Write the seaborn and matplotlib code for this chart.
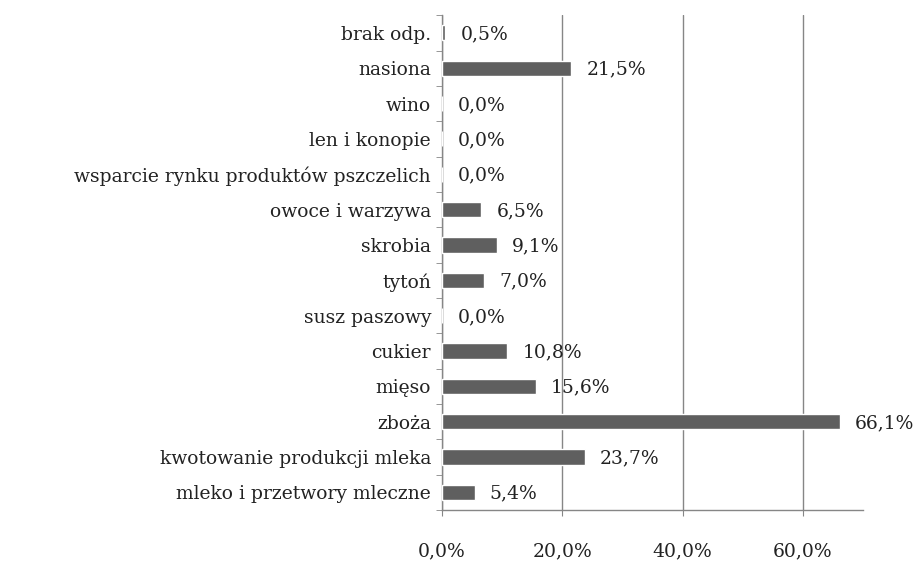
import pandas as pd
import seaborn as sns
import matplotlib.pyplot as plt
import numpy as np
from matplotlib.ticker import FuncFormatter, FixedLocator

# Data (top to bottom as in the chart)
categories = ['brak odp.', 'nasiona', 'wino', 'len i konopie',
              'wsparcie rynku produktów pszczelich', 'owoce i warzywa',
              'skrobia', 'tytoń', 'susz paszowy', 'cukier', 'mięso',
              'zboża', 'kwotowanie produkcji mleka', 'mleko i przetwory mleczne']
shares = [0.5, 21.5, 0.0, 0.0, 0.0, 6.5, 9.1, 7.0, 0.0, 10.8, 15.6, 66.1, 23.7, 5.4]
x_ticks = [0, 20, 40, 60]

df = pd.DataFrame({'kategoria': categories, 'udzial': shares})

sns.set_style('white')
plt.rcParams['font.family'] = ['DejaVu Serif', 'Liberation Serif']

fig, ax = plt.subplots(figsize=(9.23, 5.62), dpi=100)
fig.subplots_adjust(left=0.479, right=0.935, top=0.973, bottom=0.0925)

grid_c = '#868686'
txt_c = '#222222'
fs = 13.5
sns.barplot(data=df, y='kategoria', x='udzial', order=categories, orient='h',
            color='#5f5f5f', saturation=1, width=0.43, ax=ax, zorder=3)

# value labels
for i, v in enumerate(shares):
    ax.annotate(f'{v:.1f}%'.replace('.', ','), (v, i), xytext=(11, -1),
                textcoords='offset points', va='center', ha='left',
                fontsize=fs, color=txt_c)

ax.set_xlim(0, 70)
ax.set_ylim(len(categories) - 0.5, -0.5)
ax.xaxis.set_major_locator(FixedLocator(x_ticks))
ax.xaxis.set_major_formatter(FuncFormatter(lambda x, p: f'{x:.1f}%'.replace('.', ',')))
ax.grid(axis='x', color=grid_c, linewidth=1, zorder=0)
ax.set_axisbelow(True)

for s in ['top', 'right']:
    ax.spines[s].set_visible(False)
for s in ['left', 'bottom']:
    ax.spines[s].set_color(grid_c)
    ax.spines[s].set_linewidth(1)

ax.set_xlabel('')
ax.set_ylabel('')
ax.tick_params(axis='x', direction='out', length=4, color=grid_c, pad=19,
               labelsize=fs, labelcolor=txt_c, bottom=True)
ax.tick_params(axis='y', which='major', length=0, pad=8, labelsize=fs,
               labelcolor=txt_c)
ax.yaxis.set_minor_locator(FixedLocator(np.arange(-0.5, len(categories), 1)))
ax.tick_params(axis='y', which='minor', direction='out', length=4, color=grid_c, left=True)

fig.savefig('out.png', dpi=100)
